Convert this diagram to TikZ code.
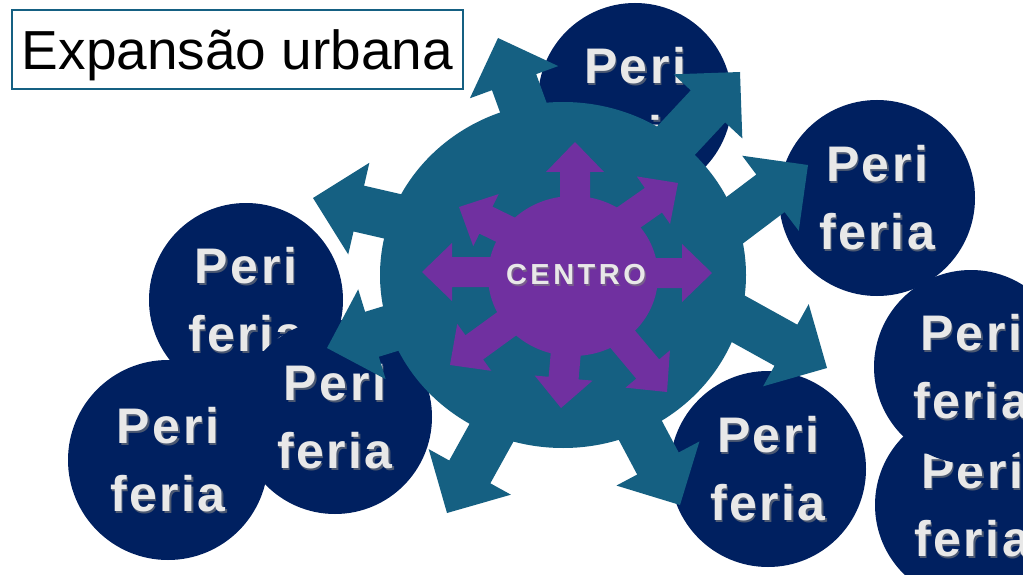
\documentclass[tikz,border=0pt]{standalone}
\usepackage{fontspec}
\setmainfont{Liberation Sans}
\newfontfamily\perifont{Liberation Sans}[LetterSpace=5]
\newfontfamily\centrofont{Liberation Sans}[LetterSpace=12]
\definecolor{tealc}{HTML}{156082}
\definecolor{navyc}{HTML}{002060}
\definecolor{purplec}{HTML}{7030A0}
\definecolor{txtc}{HTML}{E8E8E8}
\definecolor{shadc}{HTML}{7F7F7F}
\tikzset{
  pericirc/.style={circle, fill=navyc, inner sep=0pt},
  peritxt/.style={text=txtc, align=center, inner sep=0pt, font={\perifont\bfseries\fontsize{50}{68}\selectfont}},
  perishad/.style={peritxt, text=shadc, opacity=0.6},
  titlebox/.style={draw=tealc, line width=1.2pt, minimum width=451pt, minimum height=79pt, text height=46pt, text depth=5pt, font={\fontsize{55}{60}\selectfont}},
  centrotxt/.style={text=txtc, inner sep=0pt, font={\centrofont\bfseries\fontsize{29}{30}\selectfont}},
}
% fat arrow: fill, tip x, tip y, angle, length, shaft half, head half, head length
\newcommand\fatarrow[8]{\fill[#1, shift={(#2,#3)}, rotate=#4] (0,0) -- (-#8,#7) -- (-#8,#6) -- (-#5,#6) -- (-#5,-#6) -- (-#8,-#6) -- (-#8,-#7) -- cycle;}
\newcommand\tealarrow[3]{\fatarrow{tealc}{#1}{#2}{#3}{200}{23.5}{47}{47}}
\newcommand\purparrow[3]{\fatarrow{purplec}{#1}{#2}{#3}{100}{15}{29}{30}}
\newcommand\peri[4]{%
  \node[pericirc, minimum size=2*#4] (#1) at (#2,#3) {};
  \node[perishad] (#1s) at ([shift={(1.5,1.5)}]#1.center) {Peri\\feria};
  \node[peritxt] (#1t) at (#1.center) {Peri\\feria};
}
\begin{document}
\begin{tikzpicture}[x=1pt,y=-1pt]
\useasboundingbox (0,0) rectangle (1023,575);
\clip (0,0) rectangle (1023,575);
\fill[white] (0,0) rectangle (1023,575);
% title
\node[titlebox] (title) at (237.5,49.5) {Expansão urbana};
% periphery circles (behind)
\peri{ptop}{635}{100}{97}
\peri{pru}{877}{198}{98}
\peri{prb}{972}{505}{97}
\peri{prm}{971}{367}{97}
\peri{pbm}{768}{469}{98}
\peri{pul}{246}{300}{97}
\peri{pll}{168}{460}{100}
\peri{pml}{335}{417}{97}
% teal arrows
\tealarrow{498}{38}{110}
\tealarrow{740}{72}{47}
\tealarrow{808}{165}{37}
\tealarrow{827}{368}{-29}
\tealarrow{680}{505}{-62}
\tealarrow{447}{513}{-119}
\tealarrow{327}{348}{-163}
\tealarrow{313}{198}{167}
% teal centre
\fill[tealc] (563,275) ellipse [x radius=183, y radius=173];
% purple arrows
\purparrow{575}{142}{90}
\purparrow{678}{183}{35}
\purparrow{712}{273}{0}
\purparrow{667}{392}{-50}
\purparrow{561}{408}{-95}
\purparrow{450}{365}{-144}
\purparrow{422}{272}{180}
\purparrow{459}{207}{154}
\fill[purplec] (573,276) ellipse [x radius=85, y radius=80];
\node[centrotxt, text=shadc, opacity=0.6] (centros) at (577.5,276.5) {CENTRO};
\node[centrotxt] (centro) at (576,275) {CENTRO};
\end{tikzpicture}
\end{document}
